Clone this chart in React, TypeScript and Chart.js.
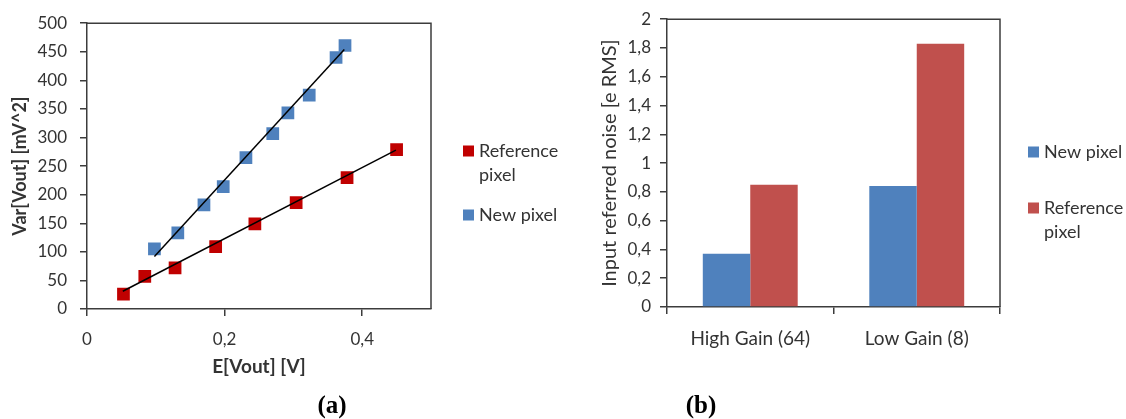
import React, { useEffect, useRef } from 'react';
import { Chart, registerables } from 'chart.js';

Chart.register(...registerables);

// ---------- Chart (a) data ----------
const refE = [0.053, 0.084, 0.128, 0.187, 0.244, 0.304, 0.378, 0.45];
const refVar = [26, 57, 72, 109, 149, 186, 230, 279];
const newE = [0.098, 0.132, 0.17, 0.198, 0.231, 0.27, 0.292, 0.323, 0.362, 0.375];
const newVar = [105, 133, 182, 214, 265, 307, 343, 374, 440, 461];
const refFitE = [0.052, 0.449];
const refFitVar = [31, 278];
const newFitE = [0.098, 0.374];
const newFitVar = [92, 454];
const xTicksA = [0, 0.2, 0.4];
const legendA = [
  { lines: ['Reference', 'pixel'], color: '#C00000' },
  { lines: ['New pixel'], color: '#4F81BD' },
];

// ---------- Chart (b) data ----------
const gainCategories = ['High Gain (64)', 'Low Gain (8)'];
const newNoise = [0.37, 0.84];
const refNoise = [0.85, 1.83];
const legendB = [
  { lines: ['New pixel'], color: '#4F81BD' },
  { lines: ['Reference', 'pixel'], color: '#C0504D' },
];

const FONT = 'Lato, "Open Sans", sans-serif';
const AXIS = '#3c3c3c';
const TEXT = '#333333';
const W = 1126;
const H = 419;
const WA = 560;
const WB = W - WA;

const fmt = (v: number) => String(Math.round(v * 10) / 10).replace('.', ',');

function framePlugin(
  legend: { lines: string[]; color: string }[],
  sqX: number,
  ys: number[]
) {
  return {
    id: 'frameLegend',
    afterDraw(chart: any) {
      const { ctx, chartArea } = chart;
      const { left, top, right, bottom } = chartArea;
      ctx.save();
      ctx.strokeStyle = AXIS;
      ctx.lineWidth = 1.5;
      ctx.beginPath();
      ctx.moveTo(left, top);
      ctx.lineTo(right, top);
      ctx.lineTo(right, bottom);
      ctx.stroke();
      ctx.font = `18px ${FONT}`;
      ctx.textBaseline = 'middle';
      ctx.textAlign = 'left';
      legend.forEach((it, i) => {
        const y = ys[i];
        ctx.fillStyle = it.color;
        ctx.fillRect(sqX, y - 5.5, 11, 11);
        ctx.fillStyle = TEXT;
        it.lines.forEach((l, j) => ctx.fillText(l, sqX + 16, y + j * 24));
      });
      ctx.restore();
    },
  };
}

function ChartA() {
  const ref = useRef<HTMLCanvasElement>(null);
  useEffect(() => {
    const chart = new Chart(ref.current as HTMLCanvasElement, {
      type: 'scatter',
      data: {
        datasets: [
          {
            type: 'line',
            label: 'fit new',
            data: newFitE.map((x, i) => ({ x, y: newFitVar[i] })),
            borderColor: '#000',
            borderWidth: 1.5,
            pointRadius: 0,
            showLine: true,
            order: 0,
          } as any,
          {
            type: 'line',
            label: 'fit ref',
            data: refFitE.map((x, i) => ({ x, y: refFitVar[i] })),
            borderColor: '#000',
            borderWidth: 1.5,
            pointRadius: 0,
            showLine: true,
            order: 0,
          } as any,
          {
            label: 'Reference pixel',
            data: refE.map((x, i) => ({ x, y: refVar[i] })),
            backgroundColor: '#C00000',
            borderColor: '#C00000',
            borderWidth: 0,
            pointStyle: 'rect',
            pointRadius: 9,
            order: 1,
          },
          {
            label: 'New pixel',
            data: newE.map((x, i) => ({ x, y: newVar[i] })),
            backgroundColor: '#4F81BD',
            borderColor: '#4F81BD',
            borderWidth: 0,
            pointStyle: 'rect',
            pointRadius: 9,
            order: 1,
          },
        ],
      },
      options: {
        animation: false,
        responsive: false,
        events: [],
        layout: { padding: { top: 15, right: WA - 431, left: 0, bottom: 0 } },
        plugins: { legend: { display: false }, tooltip: { enabled: false } },
        scales: {
          x: {
            type: 'linear',
            min: 0,
            max: 0.5,
            afterBuildTicks: (s: any) => {
              s.ticks = xTicksA.map((v) => ({ value: v }));
            },
            afterFit: (s: any) => {
              s.height = H - 309;
            },
            grid: { drawOnChartArea: false, drawTicks: true, tickLength: 7, color: AXIS, lineWidth: 1.5 },
            border: { color: AXIS, width: 1.5 },
            ticks: {
              font: { family: FONT, size: 17 },
              color: TEXT,
              padding: 13,
              maxRotation: 0,
              callback: (v: any) => fmt(Number(v)),
            },
            title: {
              display: true,
              text: 'E[Vout] [V]',
              color: TEXT,
              font: { family: FONT, size: 19, weight: 'bold' },
              padding: { top: 0, bottom: 41 },
            },
          },
          y: {
            min: 0,
            max: 500,
            afterFit: (s: any) => {
              s.width = 87;
            },
            grid: { drawOnChartArea: false, drawTicks: true, tickLength: 7, color: AXIS, lineWidth: 1.5 },
            border: { color: AXIS, width: 1.5 },
            ticks: {
              stepSize: 50,
              font: { family: FONT, size: 17 },
              color: TEXT,
              padding: 13,
              callback: (v: any) => fmt(Number(v)),
            },
            title: {
              display: true,
              text: 'Var[Vout] [mV^2]',
              color: TEXT,
              font: { family: FONT, size: 18, weight: 'bold' },
              padding: { top: 9, bottom: 0 },
            },
          },
        },
      },
      plugins: [framePlugin(legendA, 463, [151, 215])],
    } as any);
    return () => chart.destroy();
  }, []);
  return <canvas ref={ref} width={WA} height={H} style={{ position: 'absolute', left: 0, top: 0 }} />;
}

function ChartB() {
  const ref = useRef<HTMLCanvasElement>(null);
  useEffect(() => {
    const chart = new Chart(ref.current as HTMLCanvasElement, {
      type: 'bar',
      data: {
        labels: gainCategories,
        datasets: [
          {
            label: 'New pixel',
            data: newNoise,
            backgroundColor: '#4F81BD',
            borderWidth: 0,
            categoryPercentage: 0.57,
            barPercentage: 1,
          },
          {
            label: 'Reference pixel',
            data: refNoise,
            backgroundColor: '#C0504D',
            borderWidth: 0,
            categoryPercentage: 0.57,
            barPercentage: 1,
          },
        ],
      },
      options: {
        animation: false,
        responsive: false,
        events: [],
        layout: { padding: { top: 17, right: WB - 440, left: 0, bottom: 0 } },
        plugins: { legend: { display: false }, tooltip: { enabled: false } },
        scales: {
          x: {
            afterFit: (s: any) => {
              s.height = H - 307;
            },
            grid: { offset: true, drawOnChartArea: false, drawTicks: true, tickLength: 7, color: AXIS, lineWidth: 1.5 },
            border: { color: AXIS, width: 1.5 },
            ticks: { font: { family: FONT, size: 19 }, color: TEXT, padding: 13, maxRotation: 0 },
          },
          y: {
            min: 0,
            max: 2,
            afterFit: (s: any) => {
              s.width = 107;
            },
            grid: { drawOnChartArea: false, drawTicks: true, tickLength: 7, color: AXIS, lineWidth: 1.5 },
            border: { color: AXIS, width: 1.5 },
            ticks: {
              stepSize: 0.2,
              font: { family: FONT, size: 17 },
              color: TEXT,
              padding: 9,
              callback: (v: any) => fmt(Number(v)),
            },
            title: {
              display: true,
              text: 'Input referred noise [e RMS]',
              color: TEXT,
              font: { family: FONT, size: 20 },
              padding: { top: 38, bottom: 0 },
            },
          },
        },
      },
      plugins: [framePlugin(legendB, 468, [152, 208])],
    } as any);
    return () => chart.destroy();
  }, []);
  return <canvas ref={ref} width={WB} height={H} style={{ position: 'absolute', left: WA, top: 0 }} />;
}

const labelStyle: React.CSSProperties = {
  position: 'absolute',
  top: 404,
  transform: 'translate(-50%, -50%)',
  fontFamily: '"Liberation Serif", "DejaVu Serif", serif',
  fontWeight: 'bold',
  fontSize: 25,
  color: '#000',
  lineHeight: 1,
};

export default function App() {
  return (
    <div style={{ position: 'absolute', left: 0, top: 0, width: W, height: H, background: '#fff', overflow: 'hidden' }}>
      <ChartA />
      <ChartB />
      <div style={{ ...labelStyle, left: 332 }}>(a)</div>
      <div style={{ ...labelStyle, left: 701 }}>(b)</div>
    </div>
  );
}
